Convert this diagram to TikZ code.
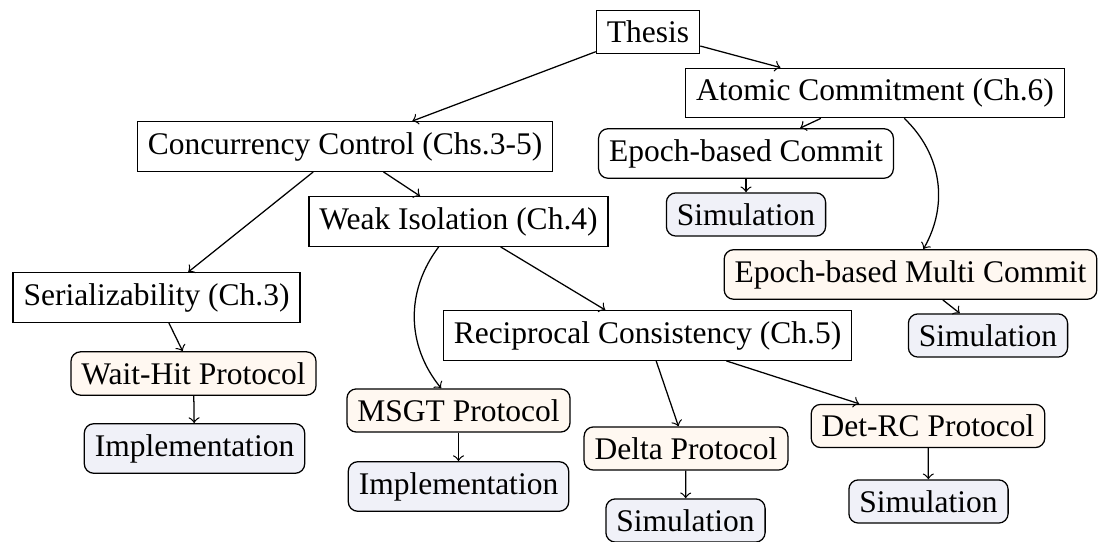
\documentclass[tikz,border=0pt]{standalone}
\usepackage{fontspec}
\setmainfont{Liberation Serif}
\definecolor{peach}{RGB}{255,248,241}
\definecolor{paleblue}{RGB}{240,241,248}
\tikzset{
  topic/.style={draw, rectangle, inner sep=.3333em},
  proto/.style={draw, rounded corners=3pt, fill=peach, inner sep=.3333em},
  impl/.style={draw, rounded corners=3pt, fill=paleblue, inner sep=.3333em},
  plain/.style={draw, rounded corners=3pt, fill=white, inner sep=.3333em},
  link/.style={->}
}
\begin{document}
\begin{tikzpicture}[x=0.3175pt, y=-0.3175pt]
\useasboundingbox (0,0) rectangle (1098,542);
\node[topic] (th) at (648,32) {Thesis};
\node[topic] (ac) at (875,93) {Atomic Commitment (Ch.6)};
\node[topic] (cc) at (345,146.5) {Concurrency Control (Chs.3-5)};
\node[plain] (ebc) at (746,153.5) {Epoch-based Commit};
\node[impl] (sim1) at (746,214.5) {Simulation};
\node[topic] (wi) at (458.5,221.5) {Weak Isolation (Ch.4)};
\node[proto] (ebmc) at (910.5,274.5) {Epoch-based Multi Commit};
\node[topic] (ser) at (156.5,297.5) {Serializability (Ch.3)};
\node[impl] (sim2) at (988,335.5) {Simulation};
\node[topic] (rc) at (647.5,335.5) {Reciprocal Consistency (Ch.5)};
\node[proto] (wh) at (193.5,373.5) {Wait-Hit Protocol};
\node[impl] (imp1) at (194.5,448.5) {Implementation};
\node[proto] (msgt) at (458.5,410.5) {MSGT Protocol};
\node[impl] (imp2) at (458.5,486.5) {Implementation};
\node[proto] (delta) at (686,448.5) {Delta Protocol};
\node[impl] (sim3) at (685.5,520.5) {Simulation};
\node[proto] (det) at (928,426) {Det-RC Protocol};
\node[impl] (sim4) at (928.5,501.5) {Simulation};

\draw[link] (th) -- (ac);
\draw[link] (th) -- (cc);
\draw[link] (ac) -- (ebc);
\draw[link] (ac) to[bend left=38] (ebmc);
\draw[link] (ebc) -- (sim1);
\draw[link] (ebmc) -- (sim2);
\draw[link] (cc) -- (ser);
\draw[link] (cc) -- (wi);
\draw[link] (wi) to[bend right=38] (msgt);
\draw[link] (wi) -- (rc);
\draw[link] (ser) -- (wh);
\draw[link] (wh) -- (imp1);
\draw[link] (msgt) -- (imp2);
\draw[link] (rc) -- (delta);
\draw[link] (rc) -- (det);
\draw[link] (delta) -- (sim3);
\draw[link] (det) -- (sim4);
\end{tikzpicture}
\end{document}
